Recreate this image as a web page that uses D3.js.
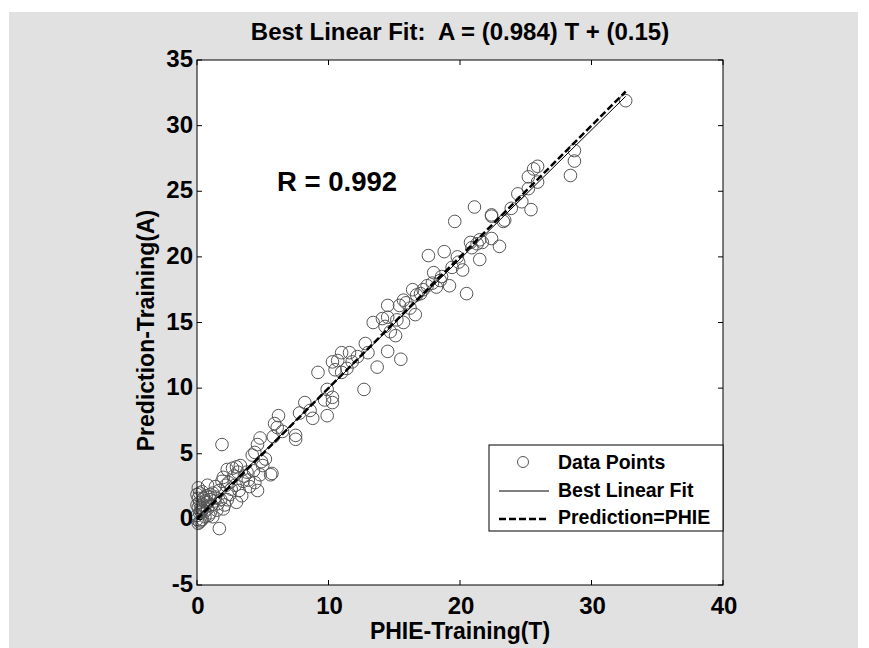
<!DOCTYPE html>
<html>
<head>
<meta charset="utf-8">
<script src="https://cdn.jsdelivr.net/npm/d3@7"></script>
<style>
  body { margin: 0; background: #fff; }
  text { font-family: Arial, "Liberation Sans", sans-serif; font-weight: bold; fill: #000; }
</style>
</head>
<body>
<svg id="chart" width="869" height="648"></svg>
<script>
// target values (T) and network output (A)
const phieT = [
  32.6, 28.7, 28.7, 28.4, 25.9, 25.6, 25.2, 25.9, 25.2, 24.4, 24.7, 25.4, 23.9, 22.4, 23.4, 23.3,
  21.7, 22.4, 23.0, 21.5, 21.1, 22.4, 19.6, 20.8, 21.5, 17.6, 18.8, 19.8, 20.2, 19.4, 20.5, 19.2,
  18.0, 18.5, 17.9, 18.2, 17.5, 17.2, 16.4, 16.7, 15.7, 15.4, 14.5, 16.2, 16.6, 15.7, 14.5, 14.1,
  13.4, 14.3, 14.7, 15.1, 14.5, 15.5, 13.7, 12.8, 13.0, 11.6, 11.0, 10.7, 10.3, 11.4, 10.5, 11.0,
  9.2, 12.7, 9.9, 10.3, 10.3, 9.7, 8.2, 8.6, 8.8, 9.9, 7.8, 20.9, 21.3, 19.9, 18.6, 17.0,
  15.9, 15.2, 12.2, 11.8,
  1.9, 1.7, 6.2, 5.9, 6.1, 6.5, 5.8, 7.5, 7.5, 4.8, 4.6, 4.4, 4.2, 5.2, 5.0, 5.7,
  5.6, 4.8, 4.4, 4.6, 4.0, 3.3, 3.0, 2.7, 2.3, 3.1, 2.0, 1.9, 2.4, 3.5, 3.9, 3.8,
  3.0, 2.5, 2.3, 2.1, 1.6, 1.4, 1.2, 1.0, 0.8, 0.4, 0.2, 0.1, 0.2, 0.4, 0.6, 1.0,
  1.2, 0.1, 0.8, 1.5, 2.0, 0.5, 0.8, 1.4, 1.7,
  0.0, 0.0, 0.1, 0.2, 0.3, 0.0, 0.3, 0.5, 0.6, 0.7, 0.9, 1.1, 1.3, 2.6, 2.9, 3.2,
  3.4, 2.8, 4.3, 4.9, 3.6, 0.0, 0.2, 0.4, 0.1, 0.6, 1.8, 2.2, 0.3, 1.0
];
const predA = [
  31.9, 28.1, 27.3, 26.2, 26.9, 26.7, 26.1, 25.7, 25.2, 24.8, 24.2, 23.6, 23.7, 23.2, 22.8, 22.7,
  21.1, 21.4, 20.8, 19.8, 23.8, 23.1, 22.7, 21.1, 21.3, 20.1, 20.4, 20.0, 19.0, 19.2, 17.2, 17.8,
  18.8, 18.2, 18.0, 17.7, 17.8, 17.5, 17.5, 17.1, 16.7, 16.3, 16.3, 16.1, 15.6, 15.0, 15.4, 15.3,
  15.0, 14.7, 14.3, 14.0, 12.8, 12.2, 11.6, 13.4, 12.7, 12.7, 12.7, 12.1, 12.0, 11.5, 11.4, 11.2,
  11.2, 9.9, 9.9, 9.3, 8.9, 9.1, 8.9, 8.3, 7.7, 7.9, 8.1, 20.7, 21.0, 19.6, 18.5, 17.2,
  16.5, 15.2, 12.4, 12.0,
  5.7, -0.7, 7.9, 7.3, 7.0, 6.7, 6.3, 6.4, 6.1, 6.2, 5.7, 5.1, 4.9, 4.6, 4.1, 3.5,
  3.4, 3.4, 2.8, 2.2, 2.5, 4.1, 4.0, 3.9, 3.8, 3.6, 3.2, 2.9, 2.8, 2.9, 3.0, 3.6,
  1.3, 1.9, 1.5, 1.1, 1.2, 1.7, 2.0, 1.9, 2.6, 2.1, 1.3, 0.9, 0.5, 0.0, 0.2, 0.5,
  0.2, -0.3, 0.8, 0.7, 0.8, 1.6, 1.3, 2.5, 2.2,
  0.3, 1.1, 1.6, 2.0, -0.1, 0.0, 0.6, 1.0, 0.6, 1.8, 0.3, 1.1, 1.4, 2.3, 2.6, 2.2,
  1.8, 3.3, 3.7, 4.4, 3.3, 1.9, -0.2, 0.8, 2.4, 1.4, 1.5, 2.6, 0.9, 1.5
];

const fitSlope = 0.984;
const fitIntercept = 0.15;
const rValue = "0.992";
const xTicks = [0, 10, 20, 30, 40];
const yTicks = [-5, 0, 5, 10, 15, 20, 25, 30, 35];
const legendLabels = ["Data Points", "Best Linear Fit", "Prediction=PHIE"];

const svg = d3.select("#chart");

// grey figure panel
svg.append("rect")
  .attr("x", 9).attr("y", 12)
  .attr("width", 849).attr("height", 636)
  .attr("fill", "#e1e1e1");

const mLeft = 197, mTop = 60, w = 526, h = 525;

const x = d3.scaleLinear().domain([0, 40]).range([mLeft, mLeft + w]);
const y = d3.scaleLinear().domain([-5, 35]).range([mTop + h, mTop]);

svg.append("rect")
  .attr("x", mLeft).attr("y", mTop)
  .attr("width", w).attr("height", h)
  .attr("fill", "#fff");

// data points
const pts = phieT.map((t, i) => [t, predA[i]]);
svg.append("g")
  .selectAll("circle")
  .data(pts)
  .join("circle")
  .attr("cx", d => x(d[0]))
  .attr("cy", d => y(d[1]))
  .attr("r", 6.3)
  .attr("fill", "none")
  .attr("stroke", "#555")
  .attr("stroke-width", 1);

const tMin = d3.min(phieT), tMax = d3.max(phieT);

// best linear fit
svg.append("line")
  .attr("x1", x(tMin)).attr("y1", y(fitSlope * tMin + fitIntercept))
  .attr("x2", x(tMax)).attr("y2", y(fitSlope * tMax + fitIntercept))
  .attr("stroke", "#000").attr("stroke-width", 1);

// A = T
svg.append("line")
  .attr("x1", x(tMin)).attr("y1", y(tMin))
  .attr("x2", x(tMax)).attr("y2", y(tMax))
  .attr("stroke", "#000").attr("stroke-width", 2.5)
  .attr("stroke-dasharray", "7,3");

// axes, MATLAB style box with inward ticks
const tickLen = 5;
const axG = svg.append("g").attr("stroke", "#000").attr("stroke-width", 1);
axG.append("rect")
  .attr("x", mLeft).attr("y", mTop)
  .attr("width", w).attr("height", h)
  .attr("fill", "none");

xTicks.forEach(v => {
  axG.append("line").attr("x1", x(v)).attr("x2", x(v)).attr("y1", mTop + h).attr("y2", mTop + h - tickLen);
  axG.append("line").attr("x1", x(v)).attr("x2", x(v)).attr("y1", mTop).attr("y2", mTop + tickLen);
});
yTicks.forEach(v => {
  axG.append("line").attr("x1", mLeft).attr("x2", mLeft + tickLen).attr("y1", y(v)).attr("y2", y(v));
  axG.append("line").attr("x1", mLeft + w).attr("x2", mLeft + w - tickLen).attr("y1", y(v)).attr("y2", y(v));
});

svg.append("g")
  .selectAll("text")
  .data(xTicks)
  .join("text")
  .attr("x", d => x(d) + 1)
  .attr("y", 614)
  .attr("text-anchor", "middle")
  .style("font-size", "24px")
  .text(d => d);

svg.append("g")
  .selectAll("text")
  .data(yTicks)
  .join("text")
  .attr("x", mLeft - 4)
  .attr("y", d => y(d) + 7)
  .attr("text-anchor", "end")
  .style("font-size", "24px")
  .text(d => d);

// titles
svg.append("text")
  .attr("x", mLeft + w / 2).attr("y", 40)
  .attr("text-anchor", "middle")
  .attr("xml:space", "preserve")
  .style("font-size", "24px")
  .text("Best Linear Fit:  A = (0.984) T + (0.15)");

svg.append("text")
  .attr("x", mLeft + w / 2).attr("y", 639)
  .attr("text-anchor", "middle")
  .style("font-size", "23px")
  .text("PHIE-Training(T)");

svg.append("text")
  .attr("transform", `translate(154,${mTop + h / 2 + 8}) rotate(-90)`)
  .attr("text-anchor", "middle")
  .style("font-size", "23px")
  .text("Prediction-Training(A)");

svg.append("text")
  .attr("x", 277).attr("y", 191)
  .style("font-size", "27.5px")
  .text("R = " + rValue);

// legend
const lg = svg.append("g").attr("transform", "translate(489,445)");
lg.append("rect")
  .attr("width", 234).attr("height", 86)
  .attr("fill", "#fff").attr("stroke", "#000").attr("stroke-width", 1);

legendLabels.forEach((lab, i) => {
  lg.append("text")
    .attr("x", 69).attr("y", 24 + i * 27.5)
    .style("font-size", "19.5px")
    .text(lab);
});
lg.append("circle")
  .attr("cx", 34).attr("cy", 17).attr("r", 5.5)
  .attr("fill", "none").attr("stroke", "#555");
lg.append("line")
  .attr("x1", 10).attr("x2", 60).attr("y1", 46).attr("y2", 46)
  .attr("stroke", "#000").attr("stroke-width", 1);
lg.append("line")
  .attr("x1", 10).attr("x2", 60).attr("y1", 74).attr("y2", 74)
  .attr("stroke", "#000").attr("stroke-width", 2.5)
  .attr("stroke-dasharray", "7,3");
</script>
</body>
</html>
